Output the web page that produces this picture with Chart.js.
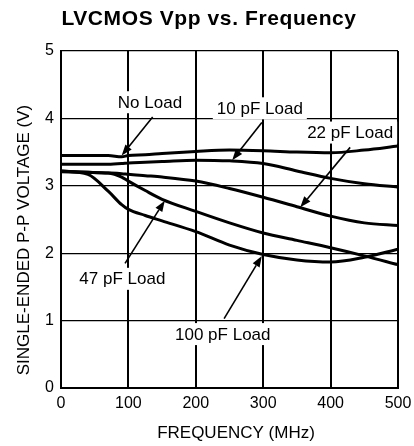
<!DOCTYPE html>
<html>
<head>
<meta charset="utf-8">
<script src="https://cdn.jsdelivr.net/npm/chart.js@4"></script>
<style>
  html, body { margin: 0; padding: 0; background: #fff; }
</style>
</head>
<body>
<canvas id="vppChart" width="414" height="446"></canvas>
<script>
// values (MHz, volts)
const freqMHz = [0, 40, 70, 90, 100, 125, 150, 200, 250, 300, 350, 400, 450, 500];
const noLoad  = [3.45, 3.45, 3.45, 3.43, 3.45, 3.46, 3.48, 3.51, 3.53, 3.52, 3.50, 3.49, 3.53, 3.59];
const load10  = [3.32, 3.32, 3.32, 3.33, 3.34, 3.35, 3.36, 3.38, 3.37, 3.33, 3.22, 3.11, 3.03, 2.98];
const load22  = [3.22, 3.20, 3.19, 3.18, 3.17, 3.15, 3.13, 3.07, 2.96, 2.83, 2.69, 2.55, 2.45, 2.41];
const load47  = [3.21, 3.20, 3.19, 3.13, 3.07, 2.93, 2.80, 2.62, 2.45, 2.30, 2.19, 2.08, 1.96, 1.83];
const load100 = [3.22, 3.17, 2.92, 2.72, 2.65, 2.56, 2.48, 2.32, 2.12, 1.98, 1.90, 1.87, 1.94, 2.06];

const seriesNames = ["No Load", "10 pF Load", "22 pF Load", "47 pF Load", "100 pF Load"];
const seriesValues = [noLoad, load10, load22, load47, load100];

const xTicks = [0, 100, 200, 300, 400, 500];
const yTicks = [0, 1, 2, 3, 4, 5];

// callouts: text centre and arrow, all in data units
const callouts = [
  { text: "No Load",     at: [132, 4.24], from: [136, 4.02], to: [90, 3.45] },
  { text: "10 pF Load",  at: [295, 4.15], from: [298, 3.94], to: [254, 3.38] },
  { text: "22 pF Load",  at: [429, 3.79], from: [429, 3.57], to: [355, 2.68] },
  { text: "47 pF Load",  at: [91, 1.62],  from: [95, 1.85],  to: [154, 2.78] },
  { text: "100 pF Load", at: [240, 0.80], from: [242, 1.03], to: [298, 1.96] }
];

const FONT = "'Liberation Sans', Arial, sans-serif";

function toPoints(values) {
  return freqMHz.map((f, i) => ({ x: f, y: values[i] }));
}

function drawArrow(ctx, x1, y1, x2, y2) {
  const ang = Math.atan2(y2 - y1, x2 - x1);
  const len = 11, half = 4;
  const bx = x2 - len * Math.cos(ang);
  const by = y2 - len * Math.sin(ang);
  ctx.beginPath();
  ctx.moveTo(x1, y1);
  ctx.lineTo(bx, by);
  ctx.stroke();
  ctx.beginPath();
  ctx.moveTo(x2, y2);
  ctx.lineTo(bx + half * Math.sin(ang), by - half * Math.cos(ang));
  ctx.lineTo(bx - half * Math.sin(ang), by + half * Math.cos(ang));
  ctx.closePath();
  ctx.fill();
}

const calloutPlugin = {
  id: "callouts",
  afterDatasetsDraw(chart) {
    const { ctx, scales: { x, y } } = chart;
    ctx.save();
    ctx.font = "17px " + FONT;
    ctx.textAlign = "center";
    ctx.textBaseline = "middle";
    callouts.forEach(c => {
      const cx = x.getPixelForValue(c.at[0]);
      const cy = y.getPixelForValue(c.at[1]);
      const w = ctx.measureText(c.text).width;
      ctx.fillStyle = "#fff";
      ctx.fillRect(cx - w / 2 - 4, cy - 11, w + 8, 22);
      ctx.fillStyle = "#000";
      ctx.fillText(c.text, cx, cy + 1);
      ctx.strokeStyle = "#000";
      ctx.lineWidth = 1.6;
      drawArrow(ctx,
        x.getPixelForValue(c.from[0]), y.getPixelForValue(c.from[1]),
        x.getPixelForValue(c.to[0]), y.getPixelForValue(c.to[1]));
    });
    ctx.restore();
  },
  afterDraw(chart) {
    // title + axis titles
    const { ctx } = chart;
    ctx.save();
    ctx.fillStyle = "#000";
    ctx.textAlign = "center";
    ctx.textBaseline = "middle";
    ctx.font = "bold 21px " + FONT;
    ctx.letterSpacing = "0.6px";
    ctx.fillText("LVCMOS Vpp vs. Frequency", 209, 19);
    ctx.letterSpacing = "0px";
    ctx.font = "17px " + FONT;
    ctx.fillText("FREQUENCY (MHz)", 236, 433);
    ctx.translate(24, 240);
    ctx.rotate(-Math.PI / 2);
    ctx.fillText("SINGLE-ENDED P-P VOLTAGE (V)", 0, 0);
    ctx.restore();
  }
};

new Chart(document.getElementById("vppChart"), {
  type: "line",
  data: {
    datasets: seriesNames.map((name, i) => ({
      label: name,
      data: toPoints(seriesValues[i]),
      borderColor: "#000",
      borderWidth: 3,
      pointRadius: 0,
      cubicInterpolationMode: "monotone",
      fill: false
    }))
  },
  options: {
    responsive: false,
    animation: false,
    layout: { padding: { left: 0, right: 16, top: 51, bottom: 0 } },
    plugins: {
      legend: { display: false },
      tooltip: { enabled: false },
      title: { display: false }
    },
    scales: {
      x: {
        type: "linear",
        min: 0,
        max: 500,
        afterBuildTicks: s => { s.ticks = xTicks.map(v => ({ value: v })); },
        afterFit: s => { s.height = 58; s.paddingLeft = 0; s.paddingRight = 0; },
        ticks: { color: "#000", font: { family: FONT, size: 16 }, padding: 6, maxRotation: 0 },
        grid: { color: "#000", lineWidth: 2, drawTicks: false },
        border: { color: "#000", width: 2 }
      },
      y: {
        min: 0,
        max: 5,
        afterBuildTicks: s => { s.ticks = yTicks.map(v => ({ value: v })); },
        afterFit: s => { s.width = 61; },
        ticks: { color: "#000", font: { family: FONT, size: 16 }, padding: 7 },
        grid: { color: "#000", lineWidth: 1.2, drawTicks: false },
        border: { color: "#000", width: 2 }
      }
    }
  },
  plugins: [calloutPlugin]
});
</script>
</body>
</html>
